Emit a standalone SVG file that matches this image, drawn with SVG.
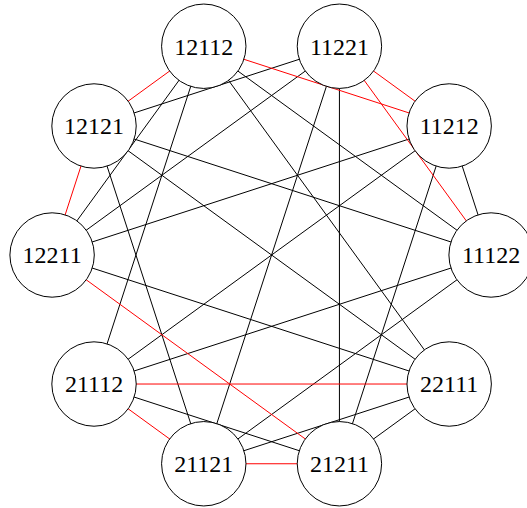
<svg xmlns="http://www.w3.org/2000/svg" width="527" height="508" viewBox="0 0 527 508">
<style>
.e{stroke:#000;stroke-width:1;fill:none}
.r{stroke:#f00;stroke-width:1;fill:none}
.n circle{fill:#fff;stroke:#000;stroke-width:1}
.n text{font-family:"Liberation Serif","DejaVu Serif",serif;font-size:24px;text-anchor:middle;fill:#000}
</style>
<rect width="527" height="508" fill="#fff"/>
<g id="connectors">
<line class="e" x1="203.77" y1="46.24" x2="52.1" y2="255"/>
<line class="e" x1="203.77" y1="46.24" x2="94.02" y2="384.02"/>
<line class="e" x1="203.77" y1="46.24" x2="491.1" y2="255"/>
<line class="e" x1="203.77" y1="46.24" x2="449.18" y2="384.02"/>
<line class="e" x1="94.02" y1="125.98" x2="339.43" y2="46.24"/>
<line class="e" x1="94.02" y1="125.98" x2="491.1" y2="255"/>
<line class="e" x1="94.02" y1="125.98" x2="449.18" y2="384.02"/>
<line class="e" x1="94.02" y1="125.98" x2="203.77" y2="463.76"/>
<line class="e" x1="339.43" y1="46.24" x2="52.1" y2="255"/>
<line class="e" x1="339.43" y1="46.24" x2="203.77" y2="463.76"/>
<line class="e" x1="339.43" y1="46.24" x2="339.43" y2="463.76"/>
<line class="e" x1="449.18" y1="125.98" x2="52.1" y2="255"/>
<line class="e" x1="449.18" y1="125.98" x2="94.02" y2="384.02"/>
<line class="e" x1="449.18" y1="125.98" x2="339.43" y2="463.76"/>
<line class="e" x1="449.18" y1="125.98" x2="491.1" y2="255"/>
<line class="e" x1="52.1" y1="255" x2="449.18" y2="384.02"/>
<line class="e" x1="94.02" y1="384.02" x2="491.1" y2="255"/>
<line class="e" x1="94.02" y1="384.02" x2="339.43" y2="463.76"/>
<line class="e" x1="203.77" y1="463.76" x2="491.1" y2="255"/>
<line class="e" x1="203.77" y1="463.76" x2="449.18" y2="384.02"/>
<line class="e" x1="449.18" y1="384.02" x2="339.43" y2="463.76"/>
<line class="r" x1="491.1" y1="255" x2="339.43" y2="46.24"/>
<line class="r" x1="339.43" y1="46.24" x2="449.18" y2="125.98"/>
<line class="r" x1="449.18" y1="125.98" x2="203.77" y2="46.24"/>
<line class="r" x1="203.77" y1="46.24" x2="94.02" y2="125.98"/>
<line class="r" x1="94.02" y1="125.98" x2="52.1" y2="255"/>
<line class="r" x1="52.1" y1="255" x2="339.43" y2="463.76"/>
<line class="r" x1="339.43" y1="463.76" x2="203.77" y2="463.76"/>
<line class="r" x1="203.77" y1="463.76" x2="94.02" y2="384.02"/>
<line class="r" x1="94.02" y1="384.02" x2="449.18" y2="384.02"/>
</g>
<g id="n11122" class="n"><circle cx="491.1" cy="255" r="42.2"/><text x="491.1" y="263.3">11122</text></g>
<g id="n11212" class="n"><circle cx="449.18" cy="125.98" r="42.2"/><text x="449.18" y="134.3">11212</text></g>
<g id="n11221" class="n"><circle cx="339.43" cy="46.24" r="42.2"/><text x="339.43" y="54.5">11221</text></g>
<g id="n12112" class="n"><circle cx="203.77" cy="46.24" r="42.2"/><text x="203.77" y="54.5">12112</text></g>
<g id="n12121" class="n"><circle cx="94.02" cy="125.98" r="42.2"/><text x="94.02" y="134.3">12121</text></g>
<g id="n12211" class="n"><circle cx="52.1" cy="255" r="42.2"/><text x="52.1" y="263.3">12211</text></g>
<g id="n21112" class="n"><circle cx="94.02" cy="384.02" r="42.2"/><text x="94.02" y="392.3">21112</text></g>
<g id="n21121" class="n"><circle cx="203.77" cy="463.76" r="42.2"/><text x="203.77" y="472.1">21121</text></g>
<g id="n21211" class="n"><circle cx="339.43" cy="463.76" r="42.2"/><text x="339.43" y="472.1">21211</text></g>
<g id="n22111" class="n"><circle cx="449.18" cy="384.02" r="42.2"/><text x="449.18" y="392.3">22111</text></g>
</svg>
